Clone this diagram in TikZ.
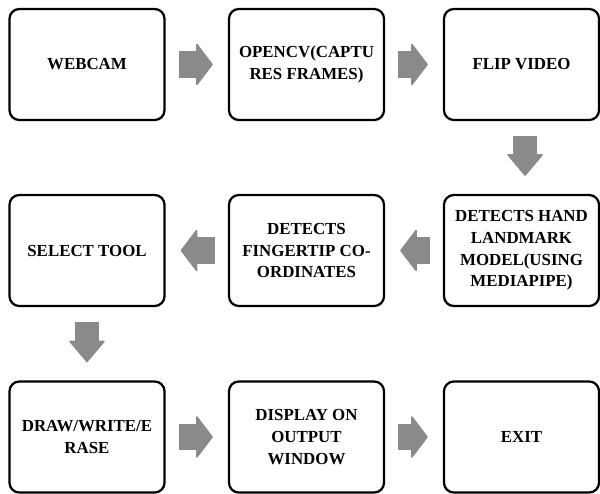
\documentclass[tikz,border=0pt]{standalone}
\usepackage{fontspec}
\setmainfont{Liberation Serif}
\usepackage{xcolor}
\usetikzlibrary{arrows.meta}

\definecolor{arrowgray}{HTML}{8A8A8A}

\begin{document}
\begin{tikzpicture}[x=0.025cm, y=-0.025cm,
    box/.style={draw, line width=1.6pt, rounded corners=7pt, minimum width=3.875cm,
        minimum height=2.775cm, inner sep=2pt, align=center,
        font=\bfseries\fontsize{12}{15.5}\selectfont},
    harrow/.style={draw=arrowgray, line width=0.65cm,
        -{Triangle[length=0.42cm, width=1.1cm, line width=1pt, round]},
        shorten <=0.325cm, shorten >=0.375cm},
    varrow/.style={draw=arrowgray, line width=0.6cm,
        -{Triangle[length=0.55cm, width=0.92cm, line width=1pt, round]},
        shorten <=0.375cm, shorten >=0.45cm}]
    \useasboundingbox (0,0) rectangle (600,494);

    \node[box] (1) at (87,64.5) {WEBCAM};
    \node[box] (2) at (306.5,64.5) {OPENCV(CAPTU\\RES FRAMES)};
    \node[box] (3) at (521.5,64.5) {FLIP VIDEO};

    \node[box] (4) at (87,250.5) {SELECT TOOL};
    \node[box] (5) at (306.5,250.5) {DETECTS\\FINGERTIP CO-\\ORDINATES};
    \node[box] (6) at (521.5,250.5) {DETECTS HAND\\LANDMARK\\MODEL(USING\\MEDIAPIPE)};

    \node[box] (7) at (87,437) {DRAW/WRITE/E\\RASE};
    \node[box] (8) at (306.5,437) {DISPLAY ON\\OUTPUT\\WINDOW};
    \node[box] (9) at (521.5,437) {EXIT};

    \draw[harrow] (1) -- (2);
    \draw[harrow] (2) -- (3);
    \draw[varrow] ([xshift=0.09cm]3.south) -- ([xshift=0.09cm]6.north);
    \draw[harrow] (6) -- (5);
    \draw[harrow] (5) -- (4);
    \draw[varrow] (4) -- (7);
    \draw[harrow] (7) -- (8);
    \draw[harrow] (8) -- (9);
\end{tikzpicture}
\end{document}
